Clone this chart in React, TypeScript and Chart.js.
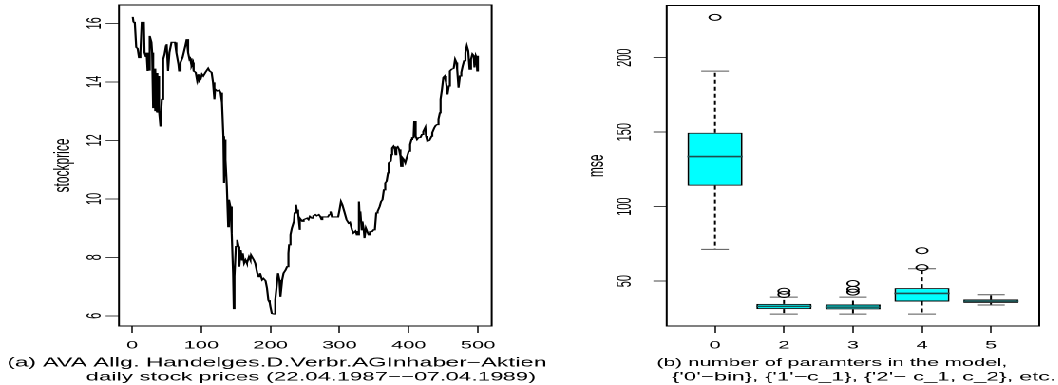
import React, { useEffect, useRef } from 'react';
import { Chart, registerables } from 'chart.js';

Chart.register(...registerables);

// ---------- left panel: daily stock price ----------
const days = [
  1, 2, 4, 6, 8, 10, 12, 14, 17, 18, 20, 21, 22, 23, 24, 25, 26, 28, 29, 30,
  31, 32, 33, 34, 35, 36, 37, 38, 39, 41, 42, 43, 45, 47, 49, 50, 52, 54, 57, 62,
  64, 67, 68, 70, 73, 77, 79, 81, 83, 84, 86, 88, 89, 92, 94, 96, 97, 99, 101, 103,
  106, 110, 112, 115, 117, 119, 120, 123, 126, 128, 130, 132, 133, 134, 135, 137, 139, 140, 142, 144,
  146, 147, 148, 150, 152, 154, 155, 157, 159, 160, 162, 164, 166, 169, 171, 172, 176, 178, 181, 183,
  185, 188, 190, 193, 195, 197, 199, 200, 202, 205, 207, 209, 211, 213, 214, 215, 217, 219, 222, 224,
  226, 227, 229, 231, 234, 235, 237, 238, 240, 241, 242, 243, 246, 248, 250, 253, 255, 257, 260, 262,
  265, 267, 270, 272, 274, 275, 279, 283, 285, 287, 289, 294, 298, 300, 302, 304, 307, 310, 313, 315,
  318, 320, 323, 325, 326, 328, 329, 330, 332, 333, 335, 336, 338, 340, 342, 344, 347, 349, 351, 353,
  355, 358, 360, 362, 364, 366, 368, 370, 371, 374, 375, 376, 378, 380, 381, 382, 384, 386, 388, 389,
  391, 393, 395, 397, 400, 402, 404, 405, 407, 408, 410, 412, 414, 417, 419, 421, 424, 425, 427, 430,
  433, 434, 437, 439, 441, 443, 445, 446, 448, 450, 452, 454, 456, 458, 459, 460, 462, 465, 467, 469,
  470, 472, 474, 476, 478, 480, 482, 484, 486, 488, 490, 492, 494, 495, 497, 498, 499, 500,
];
const stockPrice = [
  16.22, 16.05, 16.0, 15.18, 15.14, 14.83, 15.0, 16.03, 16.03, 15.0, 14.85, 15.0, 14.37, 15.0, 14.4, 15.0, 15.57, 15.35, 15.0, 14.49,
  13.1, 14.45, 13.0, 14.4, 13.05, 14.3, 12.95, 14.2, 13.0, 12.49, 12.95, 13.4, 14.77, 14.95, 15.23, 15.29, 14.37, 15.0, 15.35, 15.35,
  15.0, 14.6, 14.37, 14.66, 14.83, 15.23, 15.46, 15.0, 14.77, 14.8, 14.55, 14.66, 14.37, 14.32, 14.05, 14.26, 14.03, 14.09, 14.26, 14.2,
  14.32, 14.46, 14.37, 14.32, 13.98, 13.4, 13.75, 13.69, 13.72, 13.63, 13.29, 12.14, 10.54, 12.03, 11.34, 10.43, 9.05, 9.97, 9.74, 8.83,
  7.46, 6.25, 7.34, 8.37, 8.6, 8.37, 7.68, 8.25, 7.91, 8.14, 7.8, 7.91, 7.8, 8.02, 7.91, 8.08, 7.91, 7.8, 7.46, 7.34,
  7.46, 7.23, 7.28, 7.2, 6.95, 6.54, 6.45, 6.31, 6.08, 6.06, 6.54, 7.0, 7.46, 7.23, 6.77, 6.65, 7.23, 7.46, 7.57, 7.68,
  8.14, 8.43, 8.77, 9.0, 9.23, 9.52, 9.8, 9.63, 9.52, 9.29, 8.94, 9.34, 9.23, 9.29, 9.31, 9.34, 9.29, 9.4, 9.34, 9.42,
  9.46, 9.42, 9.46, 9.4, 9.29, 9.38, 9.38, 9.38, 9.46, 9.57, 9.38, 9.38, 9.38, 9.63, 9.91, 9.8, 9.55, 9.29, 9.17, 9.2,
  8.94, 8.83, 8.9, 8.77, 8.77, 9.91, 9.4, 9.57, 8.94, 9.23, 8.94, 8.66, 9.0, 8.88, 8.77, 8.88, 8.88, 8.94, 8.94, 9.52,
  9.57, 9.74, 9.91, 9.97, 10.31, 10.54, 10.6, 10.89, 11.23, 11.29, 11.51, 11.74, 11.8, 11.69, 11.51, 11.74, 11.78, 11.69, 11.46, 11.11,
  11.4, 11.34, 11.23, 11.4, 11.63, 11.86, 12.03, 12.09, 12.09, 12.66, 12.14, 12.03, 12.09, 12.1, 12.2, 12.3, 12.45, 12.15, 11.97, 12.0,
  12.14, 12.26, 12.43, 12.51, 12.54, 12.72, 12.94, 13.4, 13.74, 14.15, 14.2, 13.98, 13.57, 13.86, 14.26, 14.37, 14.43, 14.46, 14.77, 14.66,
  14.43, 13.8, 14.2, 14.32, 14.54, 14.72, 15.0, 15.23, 15.06, 14.43, 14.77, 14.95, 14.89, 14.49, 14.89, 14.83, 14.37, 14.89,
];
const priceXTicks = [0, 100, 200, 300, 400, 500];
const priceYTicks = [6, 8, 10, 12, 14, 16];
const leftYLabel = 'stockprice';
const leftCaption = [
  '(a) AVA Allg. Handelges.D.Verbr.AGInhaber\u2212Aktien',
  'daily stock prices (22.04.1987\u2212\u221207.04.1989)',
];

// ---------- right panel: boxplot of mse ----------
const modelLabels = ['0', '2', '3', '4', '5'];
const boxQ1 = [114.1, 31.2, 31.0, 36.3, 35.4];
const boxMedian = [133.6, 33.0, 32.5, 41.7, 36.5];
const boxQ3 = [149.6, 34.7, 34.3, 45.3, 37.7];
const whiskerLow = [71.3, 27.8, 27.8, 27.8, 33.9];
const whiskerHigh = [191.0, 39.2, 39.2, 58.3, 40.8];
const outlierValues = [[227.1], [43.2, 41.0], [48.4, 44.4, 42.6], [70.4, 59.0], []];
const mseYTicks = [50, 100, 150, 200];
const rightYLabel = 'mse';
const rightCaption = [
  '(b) number of paramters in the model,',
  "{'0'\u2212bin}, {'1'\u2212c_1}, {'2'\u2212 c_1, c_2}, etc.",
];

// ---------- layout / style ----------
const STRETCH = 1.9;
const NATIVE_W = 1058 / STRETCH;
const H = 385;
const FONT = "'Liberation Sans', Arial, Helvetica, sans-serif";
const FS = 11; // tick labels
const LAB_FS = 12; // axis titles
const X_AXIS_H = 26;
const CAP_Y = [363, 377];

const rRange = (lo: number, hi: number) => [lo - 0.04 * (hi - lo), hi + 0.04 * (hi - lo)];

const framePlugin = {
  id: 'frame',
  afterDraw(chart: any) {
    const { ctx, chartArea: a } = chart;
    ctx.save();
    ctx.strokeStyle = '#000';
    ctx.lineWidth = 1;
    ctx.strokeRect(a.left, a.top, a.right - a.left, a.bottom - a.top);
    ctx.restore();
  },
};

function captionPlugin(lines: string[], centers: number[], sizes: number[]) {
  return {
    id: 'caption',
    afterDraw(chart: any) {
      const { ctx } = chart;
      ctx.save();
      ctx.fillStyle = '#000';
      ctx.textAlign = 'center';
      ctx.textBaseline = 'middle';
      lines.forEach((t, i) => {
        ctx.font = `${sizes[i]}px ${FONT}`;
        ctx.fillText(t, centers[i], CAP_Y[i]);
      });
      ctx.restore();
    },
  };
}

function zeroPad(s: any) {
  s.paddingLeft = 0;
  s.paddingRight = 0;
  s.paddingTop = 0;
  s.paddingBottom = 0;
}

function makeOptions(cfg: {
  area: { left: number; right: number; top: number; bottom: number };
  canvasW: number;
  xRange: number[];
  yRange: number[];
  xTicks: number[];
  yTicks: number[];
  xLabel: (v: number) => string;
  yTitle: string;
  yTitleX: number;
  yLabelX: number;
  yWidest: number;
}) {
  const { area } = cfg;
  const padRight = cfg.canvasW - area.right;
  const padLeft = 0;
  const yWidth = area.left - padLeft;
  const tickLen = 7;
  const titleLH = LAB_FS * 1.2;
  return {
    animation: false,
    responsive: false,
    devicePixelRatio: 2,
    layout: { padding: { left: padLeft, right: padRight, top: area.top, bottom: H - area.bottom - X_AXIS_H } },
    plugins: {
      legend: { display: false },
      tooltip: { enabled: false },
      title: { display: false },
    },
    scales: {
      x: {
        type: 'linear',
        min: cfg.xRange[0],
        max: cfg.xRange[1],
        offset: false,
        afterBuildTicks: (s: any) => {
          s.ticks = cfg.xTicks.map((v) => ({ value: v }));
        },
        afterFit: (s: any) => {
          s.height = X_AXIS_H;
          zeroPad(s);
        },
        ticks: {
          autoSkip: false,
          maxRotation: 0,
          minRotation: 0,
          padding: 6,
          color: '#000',
          font: { family: FONT, size: FS },
          callback: (v: number) => cfg.xLabel(v),
        },
        grid: { display: true, drawOnChartArea: false, drawTicks: true, tickLength: tickLen, color: '#444', offset: false },
        border: { display: false },
      },
      y: {
        type: 'linear',
        min: cfg.yRange[0],
        max: cfg.yRange[1],
        afterBuildTicks: (s: any) => {
          s.ticks = cfg.yTicks.map((v) => ({ value: v }));
        },
        afterFit: (s: any) => {
          s.width = yWidth;
          zeroPad(s);
        },
        ticks: {
          autoSkip: false,
          minRotation: 90,
          maxRotation: 90,
          crossAlign: 'center',
          padding: area.left - tickLen - cfg.yWidest / 2 - cfg.yLabelX,
          color: '#000',
          font: { family: FONT, size: FS },
          callback: (v: number) => String(v),
        },
        title: {
          display: true,
          text: cfg.yTitle,
          color: '#000',
          font: { family: FONT, size: LAB_FS },
          padding: { top: cfg.yTitleX - padLeft - titleLH / 2, bottom: 0 },
        },
        grid: { display: true, drawOnChartArea: false, drawTicks: true, tickLength: tickLen, color: '#444' },
        border: { display: false },
      },
    },
  };
}

const X2 = 280;
const W1 = 296;
const W2 = Math.round(NATIVE_W - X2);

export default function App() {
  const leftRef = useRef<HTMLCanvasElement>(null);
  const rightRef = useRef<HTMLCanvasElement>(null);

  useEffect(() => {
    const charts: Chart[] = [];
    if (leftRef.current) {
      const yR = rRange(Math.min(...stockPrice), Math.max(...stockPrice));
      const xR = rRange(Math.min(...days), Math.max(...days));
      charts.push(
        new Chart(leftRef.current, {
          type: 'line',
          data: {
            datasets: [
              {
                data: days.map((d, i) => ({ x: d, y: stockPrice[i] })),
                borderColor: '#000',
                borderWidth: 1.1,
                pointRadius: 0,
                tension: 0,
                fill: false,
              },
            ],
          },
          options: makeOptions({
            area: { left: 62.6, right: 258.8, top: 5, bottom: 326 },
            canvasW: W1,
            xRange: xR,
            yRange: yR,
            xTicks: priceXTicks,
            yTicks: priceYTicks,
            xLabel: (v) => String(v),
            yTitle: leftYLabel,
            yTitleX: 33,
            yLabelX: 50,
            yWidest: 12.2,
          }) as any,
          plugins: [framePlugin, captionPlugin(leftCaption, [277 / STRETCH, 311 / STRETCH], [12.5, 12])],
        })
      );
    }
    if (rightRef.current) {
      const pos = modelLabels.map((_, i) => i + 1);
      const allVals = [...whiskerLow, ...whiskerHigh, ...outlierValues.flat()];
      const yR = rRange(Math.min(...allVals), Math.max(...allVals));
      const xR = rRange(pos[0] - 0.5, pos[pos.length - 1] + 0.5);
      const gap = (p: number) => ({ x: p, y: null as any });
      const medians = pos.flatMap((p, i) => [
        { x: p - 0.4, y: boxMedian[i] },
        { x: p + 0.4, y: boxMedian[i] },
        gap(p),
      ]);
      const whiskers = pos.flatMap((p, i) => [
        { x: p, y: boxQ3[i] },
        { x: p, y: whiskerHigh[i] },
        gap(p),
        { x: p, y: boxQ1[i] },
        { x: p, y: whiskerLow[i] },
        gap(p),
      ]);
      const caps = pos.flatMap((p, i) => [
        { x: p - 0.2, y: whiskerHigh[i] },
        { x: p + 0.2, y: whiskerHigh[i] },
        gap(p),
        { x: p - 0.2, y: whiskerLow[i] },
        { x: p + 0.2, y: whiskerLow[i] },
        gap(p),
      ]);
      const outs = pos.flatMap((p, i) => outlierValues[i].map((v) => ({ x: p, y: v })));
      charts.push(
        new Chart(rightRef.current, {
          type: 'bar',
          data: {
            datasets: [
              {
                type: 'scatter',
                data: outs,
                pointStyle: 'circle',
                pointRadius: 3,
                borderColor: '#000',
                backgroundColor: 'rgba(0,0,0,0)',
                borderWidth: 1,
              },
              {
                type: 'line',
                data: medians,
                borderColor: '#1d4f4f',
                borderWidth: 1.6,
                pointRadius: 0,
                spanGaps: false,
              },
              {
                type: 'line',
                data: caps,
                borderColor: '#555',
                borderWidth: 1,
                pointRadius: 0,
                spanGaps: false,
              },
              {
                type: 'line',
                data: whiskers,
                borderColor: '#000',
                borderWidth: 1,
                borderDash: [4, 3],
                pointRadius: 0,
                spanGaps: false,
              },
              {
                type: 'bar',
                data: pos.map((p, i) => ({ x: p, y: [boxQ1[i], boxQ3[i]] })),
                backgroundColor: '#00ffff',
                borderColor: '#000',
                borderWidth: 1,
                borderSkipped: false,
                barPercentage: 1,
                categoryPercentage: 0.8,
              },
            ] as any,
          },
          options: makeOptions({
            area: { left: 350.9 - X2, right: 547 - X2, top: 5.5, bottom: 326 },
            canvasW: W2,
            xRange: xR,
            yRange: yR,
            xTicks: pos,
            yTicks: mseYTicks,
            xLabel: (v) => modelLabels[Math.round(v) - 1] ?? '',
            yTitle: rightYLabel,
            yTitleX: 314.2 - X2,
            yLabelX: 329 - X2,
            yWidest: 18.4,
          }) as any,
          plugins: [framePlugin, captionPlugin(rightCaption, [832 / STRETCH - X2, 864 / STRETCH - X2], [11, 12])],
        })
      );
    }
    return () => charts.forEach((c) => c.destroy());
  }, []);

  return (
    <div
      style={{
        position: 'fixed',
        left: 0,
        top: 0,
        width: NATIVE_W,
        height: H,
        transform: `scaleX(${STRETCH})`,
        transformOrigin: '0 0',
        background: '#fff',
      }}
    >
      <canvas ref={leftRef} width={W1} height={H} style={{ position: 'absolute', left: 0, top: 0 }} />
      <canvas ref={rightRef} width={W2} height={H} style={{ position: 'absolute', left: X2, top: 0 }} />
    </div>
  );
}
